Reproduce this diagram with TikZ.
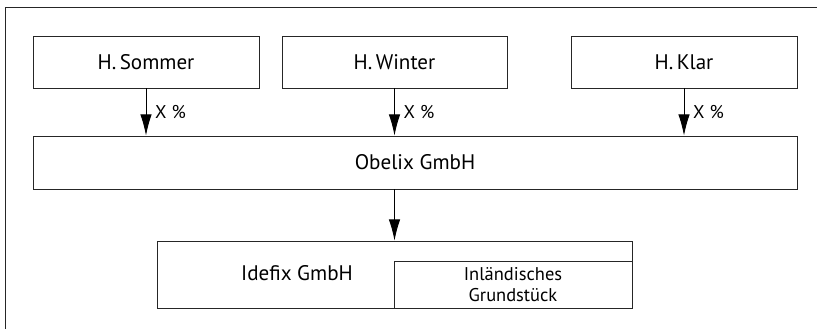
\documentclass[tikz,border=0pt]{standalone}
\usepackage{fontspec}
\setmainfont{PT Sans}
\usetikzlibrary{arrows.meta}

\begin{document}
\begin{tikzpicture}
      [x=0.02cm,y=-0.02cm,
       box/.style={draw=black!85,line width=0.5pt,inner sep=0pt,
         font=\fontsize{12}{14}\selectfont},
       anteil/.style={font=\fontsize{10.5}{12}\selectfont,inner sep=0pt,
         right=5pt},
       pfeil/.style={-{Latex[length=12pt,width=6.5pt]},line width=0.5pt}]
      \useasboundingbox (0,0) rectangle (817,329);
      \draw[line width=0.5pt,black!85] (817,7) -- (5,7) -- (5,329);

      \node[box,minimum width=4.52cm,minimum height=1.04cm] (sommer) at (146,62) {H.\,Sommer};
      \node[box,minimum width=4.5cm,minimum height=1.04cm] (winter) at (394.5,62) {H.\,Winter};
      \node[box,minimum width=4.52cm,minimum height=1.04cm] (klar) at (684,62) {H.\,Klar};
      \node[box,minimum width=15.28cm,minimum height=1.06cm] (obelix) at (415,162.5) {Obelix GmbH};

      \node[box,minimum width=9.5cm,minimum height=1.34cm] (idefix) at (394.5,274.5) {};
      \node[font=\fontsize{12}{14}\selectfont,inner sep=0pt] (idefixname) at (297,273) {Idefix GmbH};
      \node[box,minimum width=4.76cm,minimum height=0.94cm,align=center,
        font=\fontsize{10.5}{11.5}\selectfont] (grund) at (513,284.5) {Inländisches\\Grundstück};

      \foreach \g in {sommer,winter,klar} {
        \draw[pfeil] (\g.south) -- (\g.south |- obelix.north)
          node[anteil,midway] {X \%};
      }
      \draw[pfeil] (obelix.south -| idefix.north) -- (idefix.north);
\end{tikzpicture}
\end{document}
